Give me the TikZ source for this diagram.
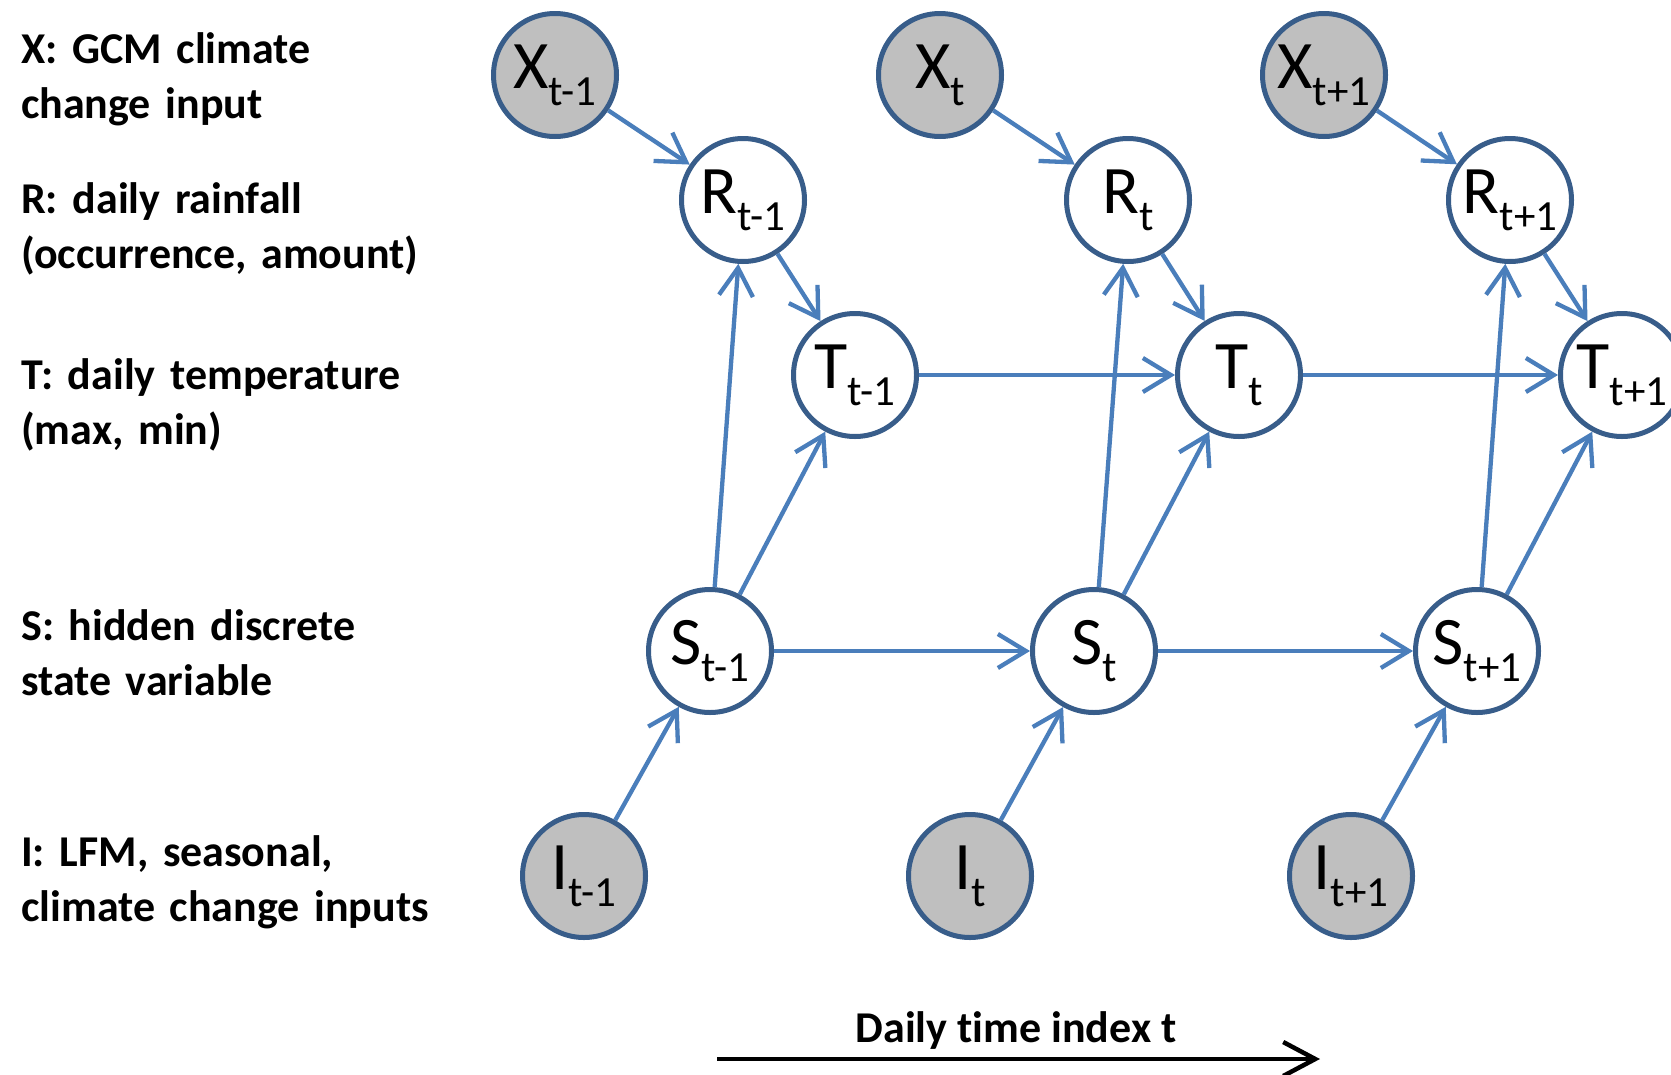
\documentclass[tikz,border=0pt]{standalone}
\usepackage{fontspec}
\setmainfont{Carlito}[Ligatures=NoCommon]
\usetikzlibrary{arrows.meta}
\definecolor{edgeblue}{RGB}{74,126,187}
\definecolor{nodeblue}{RGB}{56,93,138}
\definecolor{obsgray}{RGB}{191,191,191}
\newcommand{\vlab}[2]{\fontsize{68}{68}\selectfont #1\raisebox{-17pt}{\fontsize{43}{43}\selectfont #2}}
\tikzset{
  var/.style={circle, draw=nodeblue, line width=5pt, fill=white, minimum size=123pt, inner sep=0pt},
  obs/.style={var, fill=obsgray},
  link/.style={draw=edgeblue, line width=4.3pt, -{Straight Barb[length=28pt,width=34pt,line width=4.3pt]}},
  legend/.style={anchor=base west, text width=470pt, align=left, inner sep=0pt, font=\fontsize{44}{55}\selectfont\bfseries\frenchspacing},
}
\begin{document}
\begin{tikzpicture}[x=1pt,y=-1pt]
\useasboundingbox (0,0) rectangle (1671,1074);
\clip (0,0) rectangle (1671,1074);
% left legend
\node[legend] (lx) at (21,63) {X: GCM climate\\change input};
\node[legend] (lr) at (21,213) {R: daily rainfall\\(occurrence, amount)};
\node[legend] (lt) at (21,389) {T: daily temperature\\(max, min)};
\node[legend] (ls) at (21,640) {S: hidden discrete\\state variable};
\node[legend] (li) at (21,866) {I: LFM, seasonal,\\climate change inputs};
% nodes
\node[obs] (x1) at (555,75) {\vlab{X}{t-1}};
\node[obs] (x2) at (940,75) {\vlab{X}{t}};
\node[obs] (x3) at (1324,75) {\vlab{X}{t+1}};
\node[var] (r1) at (743,200) {\vlab{R}{t-1}};
\node[var] (r2) at (1128,200) {\vlab{R}{t}};
\node[var] (r3) at (1510,200) {\vlab{R}{t+1}};
\node[var] (t1) at (855,375) {\vlab{T}{t-1}};
\node[var] (t2) at (1239,375) {\vlab{T}{t}};
\node[var] (t3) at (1622,375) {\vlab{T}{t+1}};
\node[var] (s1) at (710,651) {\vlab{S}{t-1}};
\node[var] (s2) at (1094,651) {\vlab{S}{t}};
\node[var] (s3) at (1477,651) {\vlab{S}{t+1}};
\node[obs] (i1) at (584,876) {\vlab{I}{t-1}};
\node[obs] (i2) at (970,876) {\vlab{I}{t}};
\node[obs] (i3) at (1351,876) {\vlab{I}{t+1}};
% edges
\foreach \k in {1,2,3}{
  \draw[link] (x\k) -- (r\k);
  \draw[link] (r\k) -- (t\k);
  \draw[link] (s\k) -- (r\k);
  \draw[link] (s\k) -- (t\k);
  \draw[link] (i\k) -- (s\k);
}
\draw[link] (t1) -- (t2);
\draw[link] (t2) -- (t3);
\draw[link] (s1) -- (s2);
\draw[link] (s2) -- (s3);
% time axis
\node[anchor=base, inner sep=0pt, font=\fontsize{44}{44}\selectfont\bfseries] (tl) at (1016,1042) {Daily time index t};
\coordinate (ta) at (717,1059);
\coordinate (tb) at (1320,1059);
\draw[line width=4.5pt, -{Straight Barb[length=32pt,width=34pt,line width=4.5pt]}] (ta) -- (tb);
\end{tikzpicture}
\end{document}
